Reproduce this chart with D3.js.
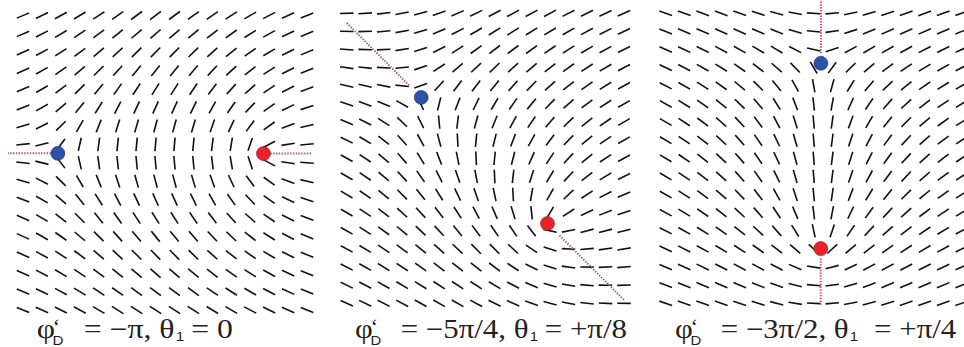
<!DOCTYPE html>
<html>
<head>
<meta charset="utf-8">
<script src="https://cdn.jsdelivr.net/npm/d3@7"></script>
<style>
  html, body { margin: 0; padding: 0; background: #fff; }
  svg { display: block; }
</style>
</head>
<body>
<div id="chart"></div>
<script>
// panel parameters
const phiD = [-Math.PI, -5 * Math.PI / 4, -3 * Math.PI / 2];
const theta1 = [0, Math.PI / 8, Math.PI / 4];
const phiLabels = ["−π", "−5π/4", "−3π/2"];
const thetaLabels = ["0", "+π/8", "+π/4"];

// director grid size per panel
const gridCols = [16, 16, 17];
const gridRows = [17, 17, 17];

// defect positions in grid units [col, row]
const blueDefects = [[1.84, 7.49], [4.03, 4.64], [8.39, 2.76]];
const redDefects = [[12.7, 7.5], [10.86, 11.6], [8.38, 12.98]];
const blueCharge = -0.5;
const redCharge = 0.5;

const width = 964, height = 347;

// pixel layout of each grid and of the dotted branch lines
const panelX = [[23, 307], [346.7, 624], [665.7, 961.7]];
const panelY = [[15.5, 310], [13.3, 303.3], [13.3, 303.3]];
const cutBox = [[8, 311, 0, 347], [346, 625, 20, 304], [0, 964, 0, 305]];
const cutGap = [7, 17, 10];
const captionLeft = [36.7, 355, 675];
const captionRight = [233, 627, 957];
const captionY = 338;

const segLen = 13.5;

const svg = d3.select("#chart").append("svg")
    .attr("width", width)
    .attr("height", height);

// distance along a ray until it leaves a box
function rayExit(p, dir, box) {
    let t = Infinity;
    if (dir[0] > 1e-9) t = Math.min(t, (box[1] - p[0]) / dir[0]);
    if (dir[0] < -1e-9) t = Math.min(t, (box[0] - p[0]) / dir[0]);
    if (dir[1] > 1e-9) t = Math.min(t, (box[3] - p[1]) / dir[1]);
    if (dir[1] < -1e-9) t = Math.min(t, (box[2] - p[1]) / dir[1]);
    return t;
}

const serif = "'Liberation Serif', 'Times New Roman', serif";
const sans = "'Liberation Sans', Arial, sans-serif";

phiD.forEach((phi, i) => {
    const x = d3.scaleLinear().domain([0, gridCols[i] - 1]).range(panelX[i]);
    const y = d3.scaleLinear().domain([0, gridRows[i] - 1]).range(panelY[i]);
    const g = svg.append("g").attr("class", "panel");

    const b = [x(blueDefects[i][0]), y(blueDefects[i][1])];
    const r = [x(redDefects[i][0]), y(redDefects[i][1])];
    const theta0 = theta1[i] + (phi + Math.PI) / 2;

    const director = (px, py) => theta0
        + blueCharge * Math.atan2(-(py - b[1]), px - b[0])
        + redCharge * Math.atan2(-(py - r[1]), px - r[0]);

    const cells = d3.cross(d3.range(gridCols[i]), d3.range(gridRows[i]))
        .map(([c, row]) => {
            const px = x(c), py = y(row);
            return { px, py, th: director(px, py) };
        });

    g.selectAll(".dir").data(cells).enter().append("line")
        .attr("class", "dir")
        .attr("x1", d => d.px - segLen / 2 * Math.cos(d.th))
        .attr("y1", d => d.py + segLen / 2 * Math.sin(d.th))
        .attr("x2", d => d.px + segLen / 2 * Math.cos(d.th))
        .attr("y2", d => d.py - segLen / 2 * Math.sin(d.th))
        .attr("stroke", "#111")
        .attr("stroke-width", 1.6);

    // dotted branch lines running outward along the defect axis
    const len = Math.hypot(b[0] - r[0], b[1] - r[1]);
    const u = [(b[0] - r[0]) / len, (b[1] - r[1]) / len];
    const cuts = [
        { p: b, dir: u },
        { p: r, dir: [-u[0], -u[1]] }
    ].map(d => {
        const t = rayExit(d.p, d.dir, cutBox[i]);
        return {
            x1: d.p[0] + d.dir[0] * cutGap[i], y1: d.p[1] + d.dir[1] * cutGap[i],
            x2: d.p[0] + d.dir[0] * t, y2: d.p[1] + d.dir[1] * t
        };
    });
    g.selectAll(".cut").data(cuts).enter().append("line")
        .attr("class", "cut")
        .attr("x1", d => d.x1).attr("y1", d => d.y1)
        .attr("x2", d => d.x2).attr("y2", d => d.y2)
        .attr("stroke", "#b44d90")
        .attr("stroke-width", 2)
        .attr("stroke-dasharray", "1.4,1.4");

    g.selectAll(".defect").data([
        { p: b, fill: "#2b52a6", stroke: "#1c3570" },
        { p: r, fill: "#e8222a", stroke: "#a01418" }
    ]).enter().append("circle")
        .attr("class", "defect")
        .attr("cx", d => d.p[0]).attr("cy", d => d.p[1])
        .attr("r", 7)
        .attr("fill", d => d.fill)
        .attr("stroke", d => d.stroke)
        .attr("stroke-width", 0.6);

    // caption: φ'_D = ..., θ_1 = ...  (the source lettering is set wide)
    const capG = g.append("g");
    const cap = capG.append("text")
        .attr("x", 0).attr("y", 0)
        .attr("font-family", serif)
        .attr("font-size", 27)
        .attr("fill", "#222");
    cap.append("tspan").attr("x", 0).attr("y", 0).text("φ");
    cap.append("tspan").attr("x", 13.5).attr("y", -4.5).attr("font-size", 20).text("‘");
    cap.append("tspan").attr("x", 13.5).attr("y", 6.5)
        .attr("font-family", sans).attr("font-size", 13).text("D");
    cap.append("tspan").attr("x", 40).attr("y", 0).text("= " + phiLabels[i] + ", θ");
    cap.append("tspan").attr("dx", 1).attr("y", 3)
        .attr("font-family", sans).attr("font-size", 13).text("1");
    cap.append("tspan").attr("dx", i === 2 ? 14 : 6).attr("y", 0).text("= " + thetaLabels[i]);

    const bb = cap.node().getBBox();
    const sx = (captionRight[i] - captionLeft[i]) / bb.width;
    capG.attr("transform", `translate(${captionLeft[i] - bb.x * sx},${captionY}) scale(${sx},1)`);
});
</script>
</body>
</html>
